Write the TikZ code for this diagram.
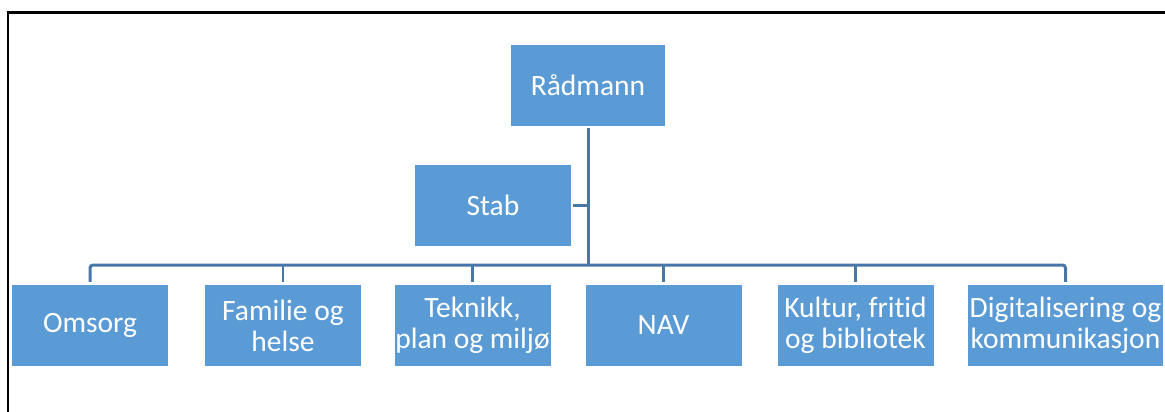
\documentclass[tikz,border=0pt]{standalone}
\usepackage{fontspec}
\setmainfont{Carlito}[Ligatures=NoCommon]
\definecolor{boxblue}{RGB}{91,155,213}
\definecolor{lineblue}{RGB}{72,118,168}
\tikzset{
  orgbox/.style={fill=boxblue, text=white, inner sep=0pt, align=center,
    minimum width=156pt, minimum height=81pt,
    font=\fontsize{29.5}{31}\selectfont},
  conn/.style={draw=lineblue, line width=3pt},
  frameline/.style={draw=black, line width=2.2pt}
}
\begin{document}
\begin{tikzpicture}[x=1pt,y=-1pt]
\useasboundingbox (0,0) rectangle (1165,412);
\draw[frameline] (8,412) -- (8,12.5) -- (1165,12.5);

\node[orgbox, minimum width=154pt] (radmann) at (588,85.5) {Rådmann};
\node[orgbox] (stab) at (493,205.5) {Stab};
\node[orgbox] (omsorg) at (90,325.5) {Omsorg};
\node[orgbox] (familie) at (283,325.5) {Familie og\\helse};
\node[orgbox] (teknikk) at (472.5,325.5) {Teknikk,\\plan og miljø};
\node[orgbox] (nav) at (663.5,325.5) {NAV};
\node[orgbox] (kultur) at (855.5,325.5) {Kultur, fritid\\og bibliotek};
\node[orgbox, minimum width=195pt] (digi) at (1065.5,325.5) {Digitalisering og\\kommunikasjon};

\coordinate (bus) at (588,265);

\draw[conn] ([yshift=-2pt]radmann.south) -- (bus);
\draw[conn, line width=2.6pt] ([xshift=2pt]stab.east) -- (stab.east -| bus);
\draw[conn, rounded corners=3pt] ([yshift=3pt]omsorg.north) |- (bus) -| ([yshift=3pt]digi.north);
\foreach \n in {familie,teknikk,nav,kultur}
  \draw[conn, line width=2.6pt] ([yshift=3pt]\n.north) -- (\n.north |- bus);
\end{tikzpicture}
\end{document}
